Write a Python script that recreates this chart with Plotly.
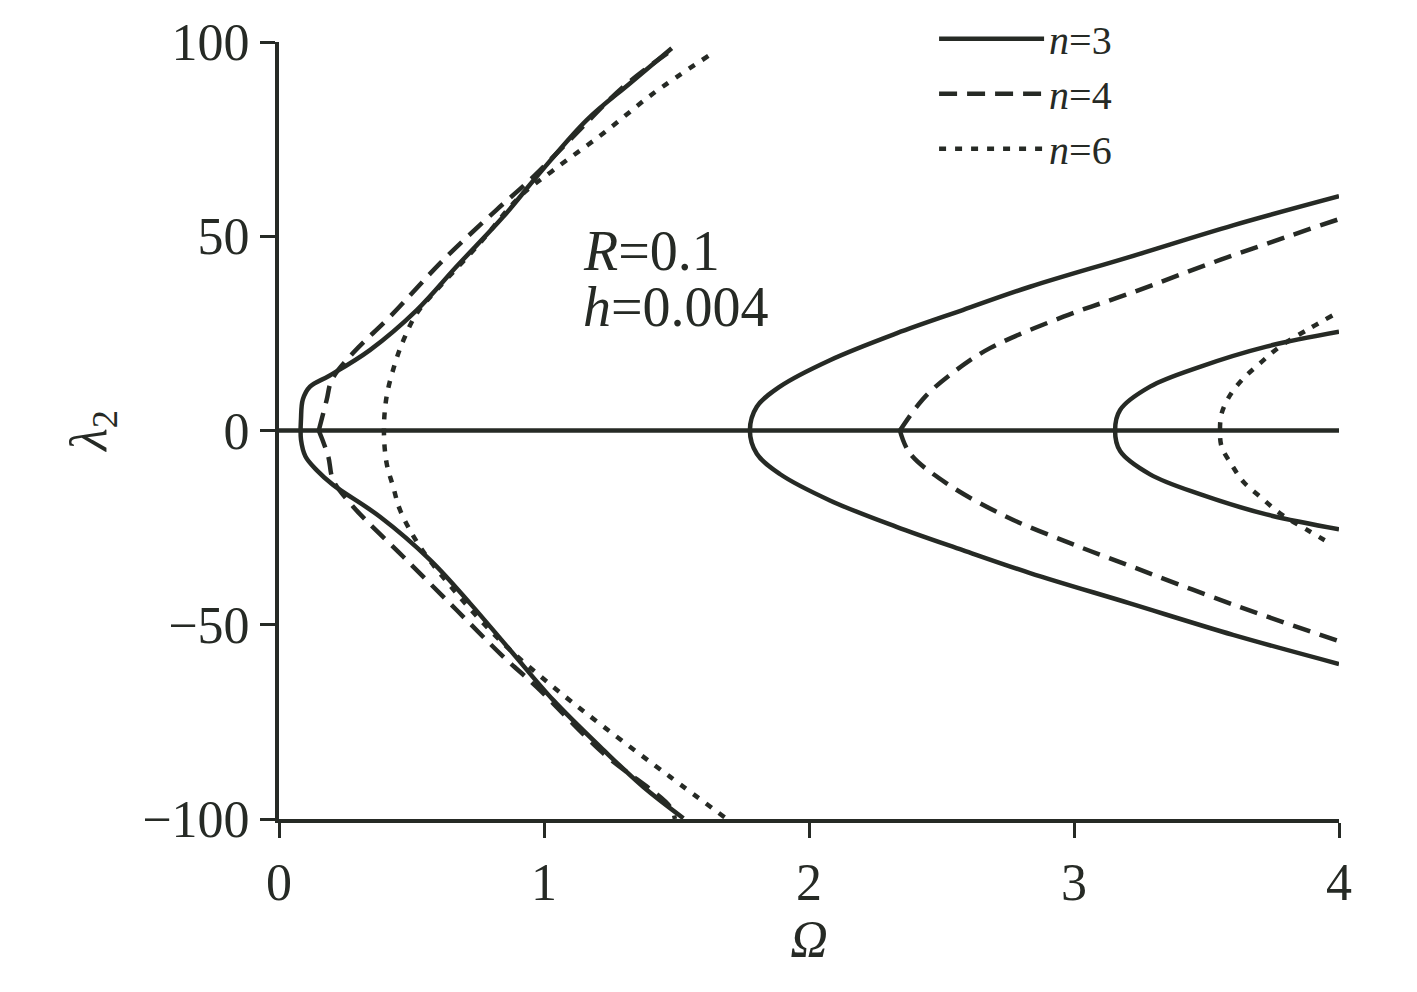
import plotly.graph_objects as go

INK = "#262a25"
FONT = "Liberation Serif"

# n=3, left branch (top end -> vertex -> bottom end)
n3_left_omega = [1.482, 1.325, 1.161, 0.972, 0.846, 0.67, 0.52, 0.343, 0.19, 0.117, 0.09, 0.083,
                 0.083, 0.1, 0.142, 0.204, 0.381, 0.57, 0.721, 0.872, 1.035, 1.224, 1.374, 1.526]
n3_left_lam = [98.4, 89.4, 79.9, 65.3, 55.0, 42.2, 31.0, 20.7, 14.1, 11.3, 8.0, 3.0,
               -2.4, -6.7, -10.2, -14.0, -22.2, -33.3, -44.5, -56.5, -69.4, -82.2, -91.7, -99.8]

# n=3, first right branch
n3_r1_omega = [4.0, 3.6, 3.211, 2.834, 2.58, 2.33, 2.079, 1.89, 1.803, 1.777,
               1.803, 1.89, 2.079, 2.33, 2.58, 2.834, 3.211, 3.6, 4.0]
n3_r1_lam = [60.3, 52.8, 44.7, 37.0, 31.0, 25.0, 18.1, 11.3, 6.1, 0.0,
             -6.0, -11.2, -18.0, -24.8, -30.8, -36.7, -44.5, -52.6, -60.1]

# n=3, second right branch
n3_r2_omega = [4.0, 3.726, 3.475, 3.287, 3.174, 3.155, 3.174, 3.287, 3.475, 3.726, 4.0]
n3_r2_lam = [25.4, 21.6, 16.4, 11.3, 5.3, 0.0, -5.3, -11.3, -16.4, -21.6, -25.4]

# n=4, left branch, upper and lower halves (sharp tip at the vertex)
n4_left_up_omega = [0.15, 0.18, 0.199, 0.28, 0.419, 0.62, 0.821, 0.947, 1.098, 1.30, 1.482]
n4_left_up_lam = [0.0, 7.9, 13.0, 20.0, 29.3, 43.9, 56.8, 64.5, 74.8, 88.5, 97.9]
n4_left_lo_omega = [0.15, 0.186, 0.204, 0.28, 0.469, 0.67, 0.846, 0.972, 1.224, 1.475, 1.494]
n4_left_lo_lam = [0.0, -6.7, -12.7, -19.6, -32.5, -46.2, -58.2, -66.0, -83.1, -96.8, -100.0]

# n=4, right branch, upper and lower halves
n4_right_up_omega = [2.343, 2.406, 2.457, 2.557, 2.683, 2.96, 3.211, 3.551, 4.0]
n4_right_up_lam = [0.0, 6.1, 10.0, 15.6, 21.2, 29.3, 35.3, 43.9, 54.4]
n4_right_lo_omega = [2.343, 2.381, 2.519, 2.745, 2.985, 3.186, 3.6, 4.0]
n4_right_lo_lam = [0.0, -5.9, -13.6, -22.2, -29.0, -34.2, -44.8, -54.2]

# n=6, left branch
n6_left_omega = [1.62, 1.413, 1.224, 1.035, 0.909, 0.746, 0.595, 0.52, 0.47, 0.438, 0.406, 0.396,
                 0.406, 0.431, 0.457, 0.532, 0.67, 0.846, 1.035, 1.224, 1.475, 1.69]
n6_left_lam = [96.4, 86.8, 76.5, 67.0, 60.2, 47.3, 36.2, 30.2, 23.3, 17.3, 8.7, 0.0,
               -8.4, -14.5, -20.5, -29.9, -41.9, -54.8, -66.0, -76.2, -89.1, -100.0]

# n=6, right branch
n6_right_omega = [3.975, 3.89, 3.777, 3.702, 3.639, 3.589, 3.557, 3.551,
                  3.557, 3.596, 3.639, 3.702, 3.777, 3.89, 3.975]
n6_right_lam = [29.6, 26.3, 21.6, 17.3, 13.4, 9.1, 4.4, 0.0,
                -4.2, -8.9, -13.2, -17.0, -21.3, -26.0, -29.4]

# trivial root lambda = 0
zero_omega = [0, 4]
zero_lam = [0, 0]

dashes = {"3": "solid", "4": "18px,10px", "6": "7px,9px"}

fig = go.Figure()

fig.add_trace(go.Scatter(x=zero_omega, y=zero_lam, mode="lines",
                         line=dict(color=INK, width=4.5), showlegend=False, hoverinfo="skip"))

branches = [
    ("3", n3_left_omega, n3_left_lam, True),
    ("3", n3_r1_omega, n3_r1_lam, False),
    ("3", n3_r2_omega, n3_r2_lam, False),
    ("4", n4_left_up_omega, n4_left_up_lam, True),
    ("4", n4_left_lo_omega, n4_left_lo_lam, False),
    ("4", n4_right_up_omega, n4_right_up_lam, False),
    ("4", n4_right_lo_omega, n4_right_lo_lam, False),
    ("6", n6_left_omega, n6_left_lam, True),
    ("6", n6_right_omega, n6_right_lam, False),
]

for n, xs, ys, show in branches:
    fig.add_trace(go.Scatter(
        x=xs, y=ys, mode="lines",
        name=f"<i>n</i>={n}", legendgroup=n, showlegend=show,
        line=dict(color=INK, width=4.5, dash=dashes[n], shape="spline", smoothing=1.0),
    ))

fig.add_annotation(x=1.14, y=46.2, xref="x", yref="y", text="<i>R</i>=0.1",
                   showarrow=False, xanchor="left", font=dict(family=FONT, size=56, color=INK))
fig.add_annotation(x=1.14, y=31.8, xref="x", yref="y", text="<i>h</i>=0.004",
                   showarrow=False, xanchor="left", font=dict(family=FONT, size=56, color=INK))

axis_common = dict(
    showgrid=False, zeroline=False, showline=True, linecolor=INK, linewidth=4,
    ticks="outside", ticklen=15, tickwidth=3, tickcolor=INK, automargin=False,
    tickfont=dict(family=FONT, size=52, color=INK),
)

fig.update_layout(
    width=1401, height=976,
    margin=dict(l=271, r=70, t=34, b=165, autoexpand=False),
    paper_bgcolor="white", plot_bgcolor="white",
    font=dict(family=FONT, color=INK),
    xaxis=dict(range=[0, 4], tickvals=[0, 1, 2, 3, 4], **axis_common,
               title=dict(text="<i>Ω</i>", font=dict(family=FONT, size=52, color=INK), standoff=8)),
    yaxis=dict(range=[-100, 100], tickvals=[-100, -50, 0, 50, 100], **axis_common,
               title=dict(text="<i>λ</i><sub>2</sub>", font=dict(family=FONT, size=52, color=INK), standoff=20)),
    legend=dict(x=0.618, y=1.046, xanchor="left", yanchor="top",
                bgcolor="rgba(0,0,0,0)", font=dict(family=FONT, size=40, color=INK),
                tracegroupgap=0, itemwidth=105),
)

fig.write_html("out.html")
